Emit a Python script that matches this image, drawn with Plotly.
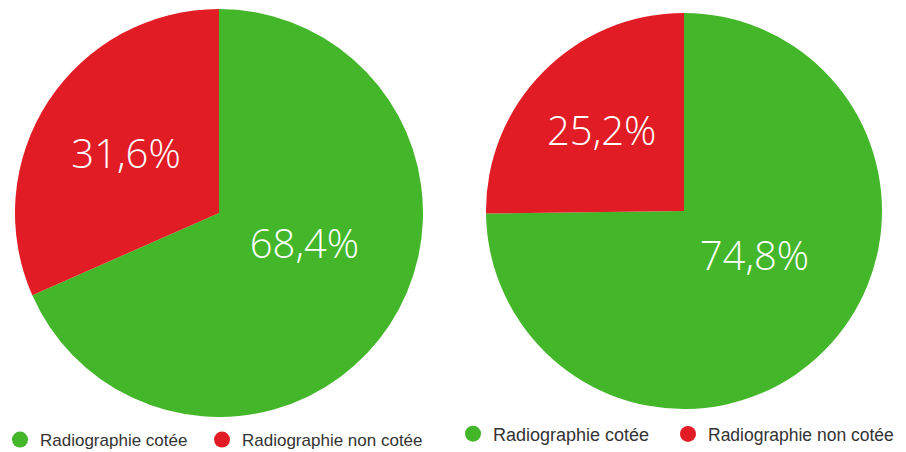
import plotly.graph_objects as go

labels = ["Radiographie cotée", "Radiographie non cotée"]
colors = ["#43B62A", "#E11C24"]
left_values = [68.4, 31.6]
right_values = [74.8, 25.2]


def fmt(vals):
    # the green label sits a little higher in the original: pad with a blank line
    out = [f"{v:.1f}%".replace(".", ",") for v in vals]
    out[0] = out[0] + "<br> "
    return out


# the page body has an 8px margin, so the figure is drawn 8px in from the corner
OFF = 8
W, H = 906 - OFF, 452 - OFF


def px_x(v):
    return (v - OFF) / W


def px_y(v):
    return 1 - (v - OFF) / H


fig = go.Figure()

fig.add_trace(go.Pie(
    labels=labels, values=left_values, text=fmt(left_values),
    textinfo="text", textposition="inside", insidetextorientation="horizontal",
    sort=False, direction="clockwise", rotation=0,
    marker=dict(colors=colors, line=dict(width=0)),
    textfont=dict(family="Open Sans", size=40, color="white", weight=300),
    domain=dict(x=[px_x(15), px_x(423)], y=[px_y(417), px_y(9)]),
    showlegend=False, hoverinfo="skip",
))
fig.add_trace(go.Pie(
    labels=labels, values=right_values, text=fmt(right_values),
    textinfo="text", textposition="inside", insidetextorientation="horizontal",
    sort=False, direction="clockwise", rotation=0,
    marker=dict(colors=colors, line=dict(width=0)),
    textfont=dict(family="Open Sans", size=40, color="white", weight=300),
    domain=dict(x=[px_x(486), px_x(882)], y=[px_y(409), px_y(13)]),
    showlegend=False, hoverinfo="skip",
))

# one small legend per entry so each can sit exactly under its pie
legend_slots = [
    ("legend", 0, 440, 16, 17, 0),
    ("legend2", 202, 440, 16, 17, 1),
    ("legend3", 453, 434, 17, 18, 0),
    ("legend4", 668, 434, 17, 17.5, 1),
]
layout_legends = {}
for name, lx, ly, msize, fsize, i in legend_slots:
    fig.add_trace(go.Scatter(
        x=[None], y=[None], mode="markers", name=labels[i],
        marker=dict(symbol="circle", size=msize, color=colors[i]),
        legend=name, hoverinfo="skip",
    ))
    layout_legends[name] = dict(
        x=px_x(lx), y=px_y(ly), xanchor="left", yanchor="middle",
        orientation="h", bgcolor="rgba(0,0,0,0)",
        itemclick=False, itemdoubleclick=False,
        font=dict(family="Liberation Sans, Arial", size=fsize, color="#333333"),
    )

fig.update_layout(
    width=W, height=H,
    margin=dict(l=0, r=0, t=0, b=0, autoexpand=False),
    paper_bgcolor="white", plot_bgcolor="white",
    xaxis=dict(visible=False), yaxis=dict(visible=False),
    **layout_legends,
)

fig.write_html("out.html")
